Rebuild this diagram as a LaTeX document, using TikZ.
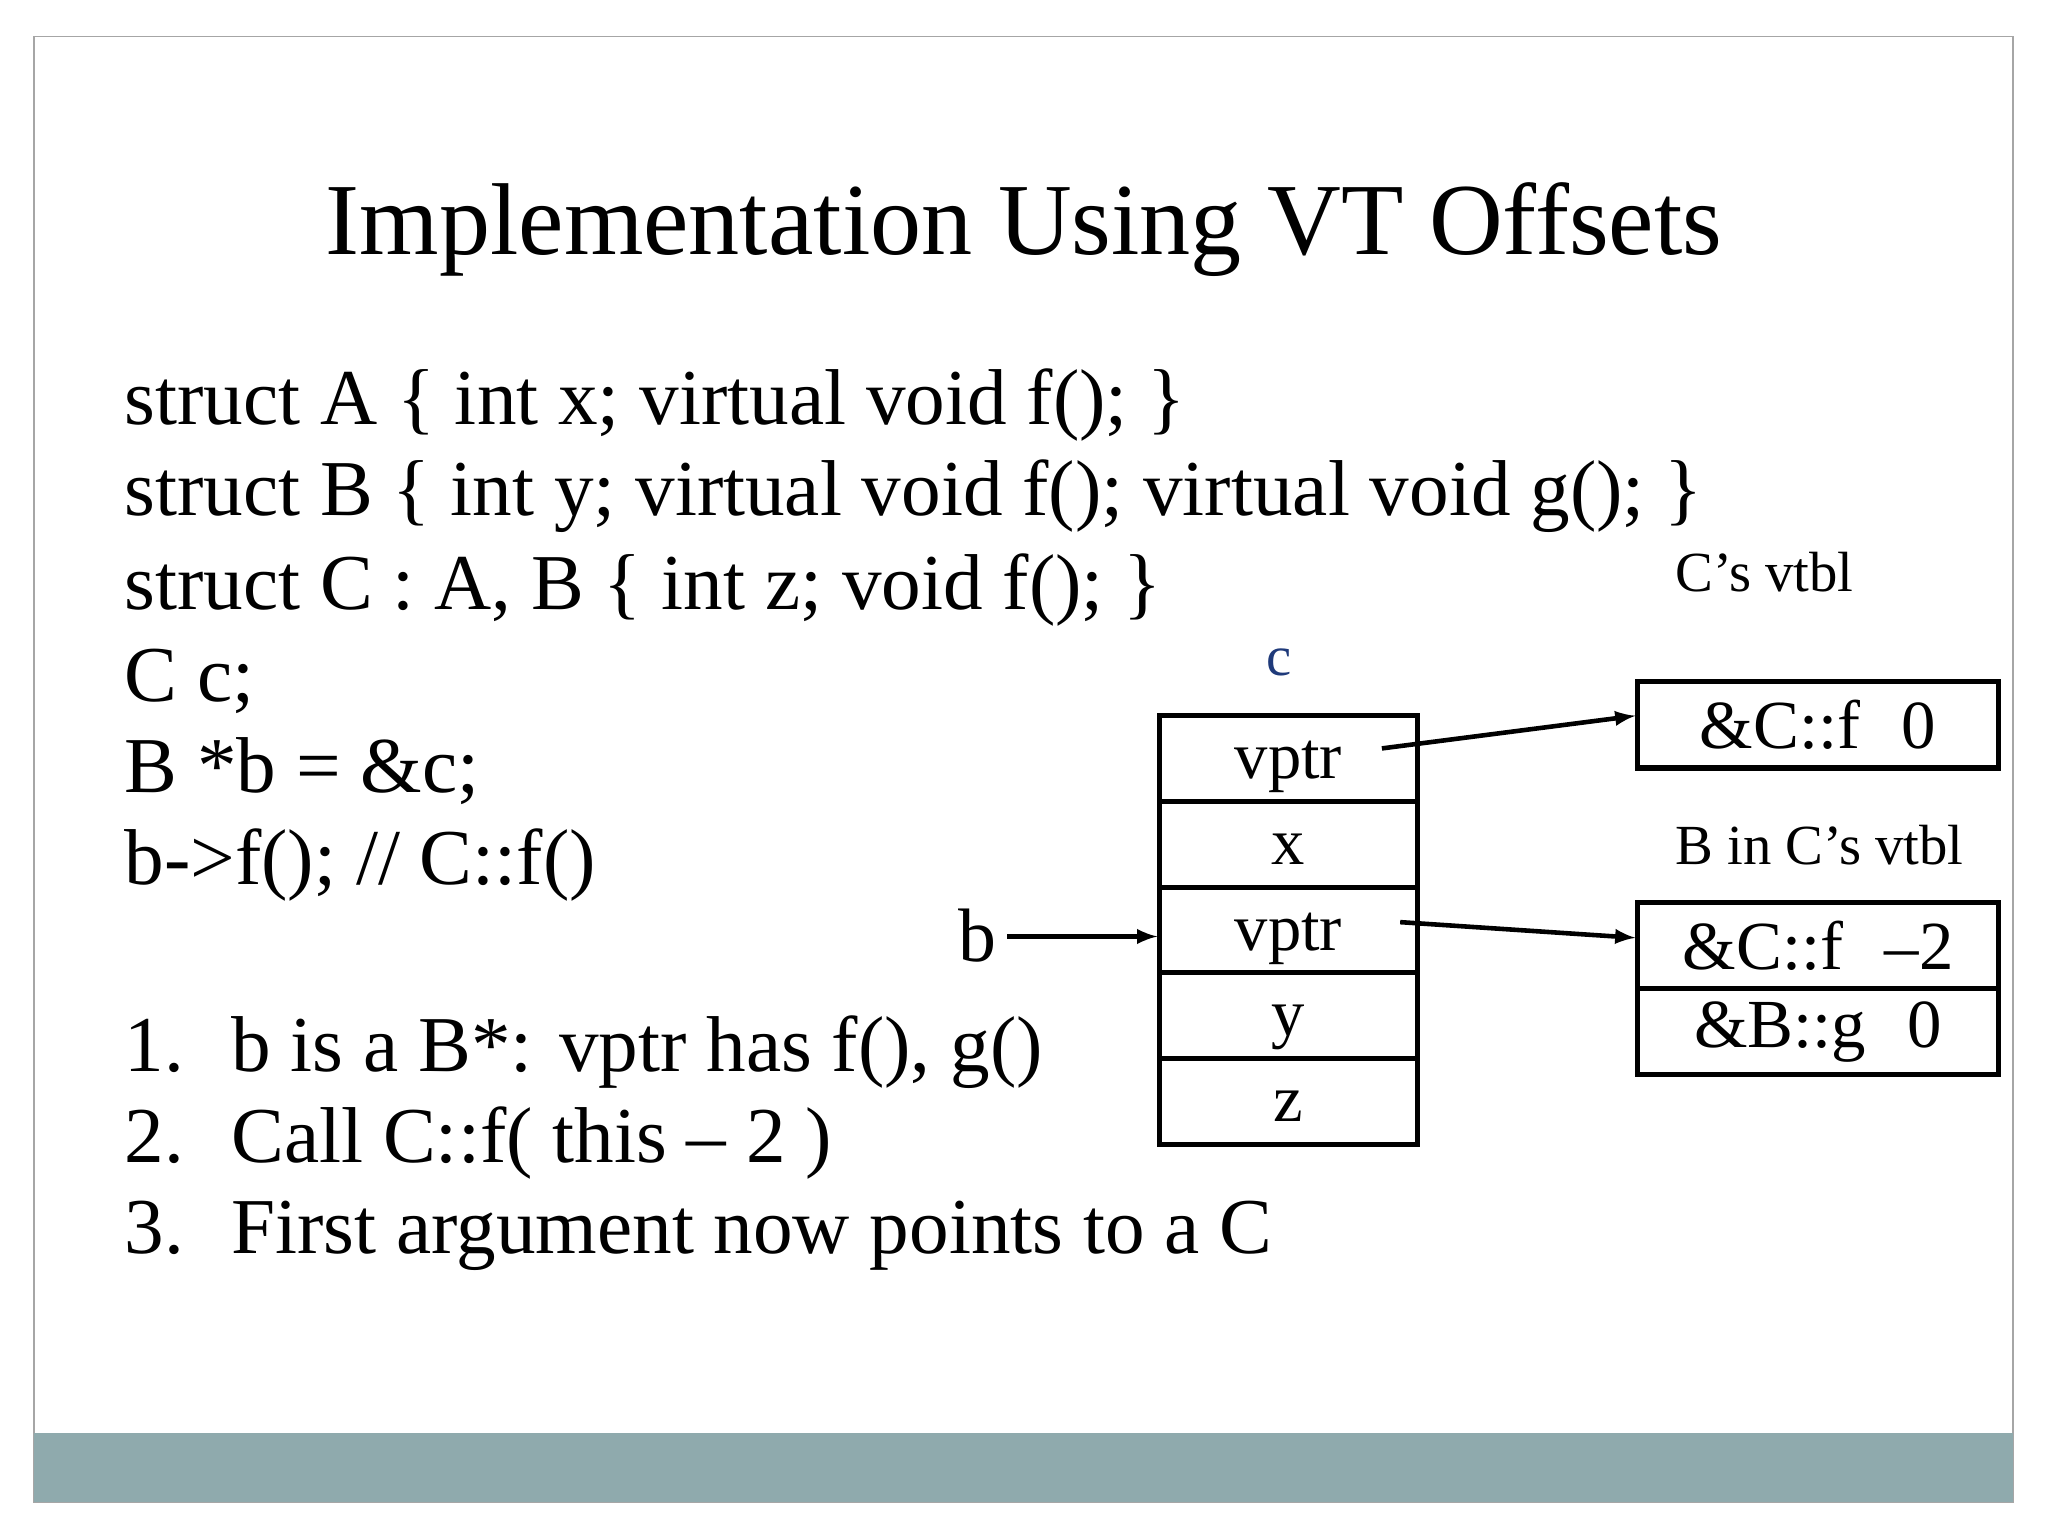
\documentclass[tikz,border=0pt]{standalone}
\usepackage{fontspec}
\setmainfont{Liberation Serif}
\begin{document}
\begin{tikzpicture}[x=0.02cm,y=-0.02cm,
  body/.style={anchor=base west,inner sep=0,font=\fontsize{34.5}{40}\selectfont},
  small/.style={anchor=base,inner sep=0,font=\fontsize{24.7}{28}\selectfont},
  cell/.style={draw,line width=2.2pt,minimum width=197*0.02cm,minimum height=65.6*0.02cm,inner sep=0,text height=0.62cm,text depth=0pt,font=\fontsize{29}{32}\selectfont},
  vcell/.style={draw,line width=2.2pt,minimum width=276*0.02cm,minimum height=66*0.02cm,inner sep=0,font=\fontsize{30}{34}\selectfont},
  arr/.style={-latex,line width=2pt}]
\useasboundingbox (0,0) rectangle (1568,1176);
\fill[white] (0,0) rectangle (1568,1176);
\draw[gray!70,line width=0.8pt] (26,28) rectangle (1541,1150);
\fill[fill={rgb,255:red,143;green,170;blue,173}] (26,1097) rectangle (1541,1150);
\node[anchor=base,inner sep=0,font=\fontsize{44.5}{50}\selectfont] (title) at (784,195) {Implementation Using VT Offsets};
\node[body] (l1) at (95,325) {struct A \{ int x; virtual void f(); \}};
\node[body] (l2) at (95,395) {struct B \{ int y; virtual void f(); virtual void g(); \}};
\node[body] (l3) at (95,467) {struct C : A, B \{ int z; void f(); \}};
\node[body] (l4) at (95,537) {C c;};
\node[body] (l5) at (95,607) {B *b = \&c;};
\node[body] (l6) at (95,677) {b->f(); // C::f()};
\node[body] (n1) at (95,820) {1.\hspace{0.6em}b is a B*: vptr has f(), g()};
\node[body] (n2) at (95,890) {2.\hspace{0.6em}Call C::f( this -- 2 )};
\node[body] (n3) at (95,960) {3.\hspace{0.6em}First argument now points to a C};
% object c
\node[cell] (c1) at (986.5,580.8) {vptr};
\node[cell] (c2) at (986.5,646.4) {x};
\node[cell] (c3) at (986.5,712) {vptr};
\node[cell] (c4) at (986.5,777.6) {y};
\node[cell] (c5) at (986.5,843.2) {z};
\node[small,text={rgb,255:red,31;green,58;blue,122}] (clab) at (979,517) {c};
% vtables
\node[small] (vt1lab) at (1351,453) {C’s vtbl};
\node[vcell] (v1) at (1392,555) {\&C::f\hspace{0.6em}0};
\node[small] (vt2lab) at (1393,662) {B in C’s vtbl};
\node[vcell] (v2) at (1392,724) {\&C::f\hspace{0.6em}--2};
\node[vcell] (v3) at (1392,790) {\&B::g\hspace{0.6em}0};
\node[anchor=base,inner sep=0,font=\fontsize{33}{36}\selectfont] (blab) at (748,736) {b};
\coordinate (p1) at (1058,573);
\coordinate (p2) at (1072,706);
\coordinate (bstart) at (771,717);
\draw[arr] (p1) -- (v1.west |- 0,548);
\draw[arr] (p2) -- (v2.west |- 0,718);
\draw[arr] (bstart) -- (c3.west |- bstart);
\end{tikzpicture}
\end{document}
